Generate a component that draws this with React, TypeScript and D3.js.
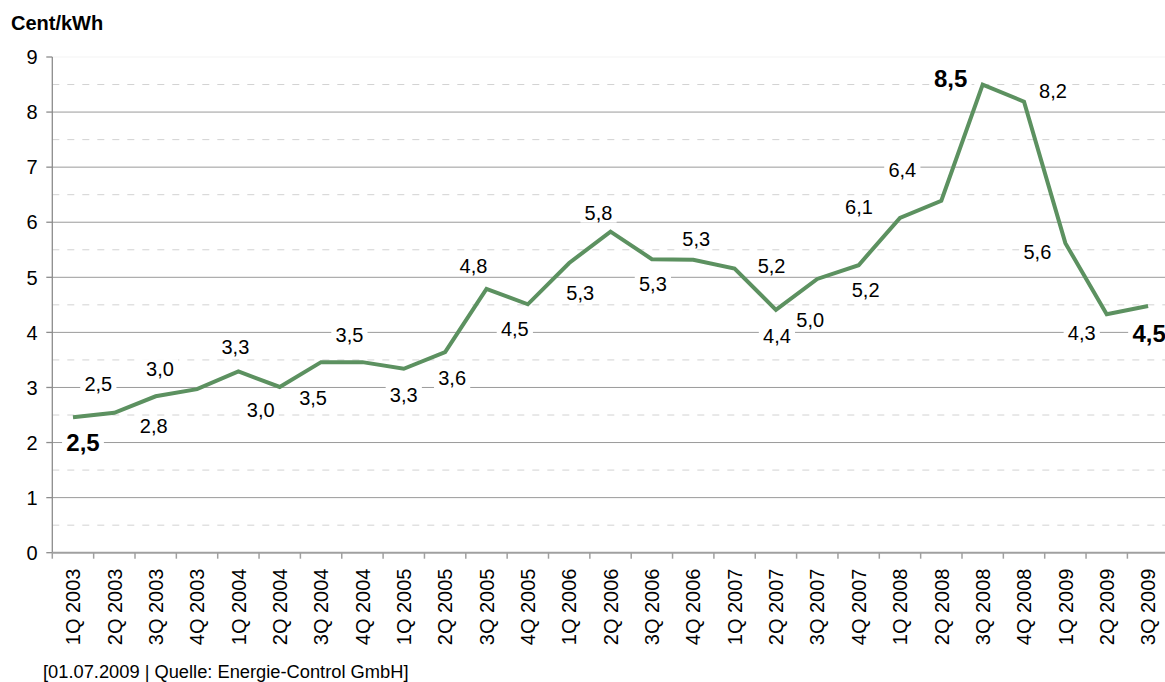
import React from "react";
import * as d3 from "d3";

const categories = [
  "1Q 2003", "2Q 2003", "3Q 2003", "4Q 2003",
  "1Q 2004", "2Q 2004", "3Q 2004", "4Q 2004",
  "1Q 2005", "2Q 2005", "3Q 2005", "4Q 2005",
  "1Q 2006", "2Q 2006", "3Q 2006", "4Q 2006",
  "1Q 2007", "2Q 2007", "3Q 2007", "4Q 2007",
  "1Q 2008", "2Q 2008", "3Q 2008", "4Q 2008",
  "1Q 2009", "2Q 2009", "3Q 2009",
];

const values = [
  2.46, 2.54, 2.84, 2.97,
  3.29, 3.01, 3.46, 3.46,
  3.34, 3.64, 4.79, 4.51,
  5.26, 5.83, 5.33, 5.32,
  5.16, 4.41, 4.97, 5.22,
  6.08, 6.39, 8.5, 8.19,
  5.62, 4.33, 4.48,
];

const yTicks = [0, 1, 2, 3, 4, 5, 6, 7, 8, 9];
const yHalfTicks = [0.5, 1.5, 2.5, 3.5, 4.5, 5.5, 6.5, 7.5, 8.5];

const yTitle = "Cent/kWh";
const sourceNote = "[01.07.2009 | Quelle: Energie-Control GmbH]";

// Indices whose data labels are emphasised (first, maximum, last)
const boldLabels = [0, 22, 26];

// Label placement relative to each point (layout, in px)
const labelOffsets: [number, number][] = [
  [10, 25], [-16, -29], [-2, 30], [-37, -20],
  [-3, -25], [-19, 23], [-8, 36], [-13, -27],
  [0, 26], [7, 26], [-13, -23], [-13, 25],
  [11, 30], [-12, -19], [1, 25], [3, -21],
  [37, -3], [1, 26], [-7, 41], [7, 25],
  [-41, -11], [-39, -31], [-32, -6], [29, -11],
  [-28, 9], [-25, 19], [1, 27],
];

const W = 1165;
const H = 682;
const FONT = "'Liberation Sans', Arial, Helvetica, sans-serif";

const fmt = (v: number) => v.toFixed(1).replace(".", ",");

export default function App() {
  const x0 = 52.3;
  const x1 = 52.3 + 41.35 * categories.length;
  const yBottom = 552.7;
  const yTop = 57;

  const x = d3.scaleBand<string>().domain(categories).range([x0, x1]).paddingInner(0).paddingOuter(0);
  const bw = x.bandwidth();
  const cx = (c: string) => (x(c) as number) + bw / 2;
  const y = d3.scaleLinear().domain([0, 9]).range([yBottom, yTop]);

  const line = d3
    .line<number>()
    .x((_, i) => cx(categories[i]))
    .y((d) => y(d));

  const pathD = line(values) || "";

  return (
    <svg
      width={W}
      height={H}
      style={{ position: "absolute", left: 0, top: 0, background: "#fff" }}
      fontFamily={FONT}
    >
      <rect x={0} y={0} width={W} height={H} fill="#fff" />
      {/* half gridlines */}
      {yHalfTicks.map((t) => (
        <line
          key={"h" + t}
          x1={x0}
          x2={W}
          y1={y(t)}
          y2={y(t)}
          stroke="#d2d2d2"
          strokeWidth={1}
          strokeDasharray="7,8"
        />
      ))}
      {/* major gridlines */}
      {yTicks
        .filter((t) => t > 0 && t < 9)
        .map((t) => (
          <line key={"g" + t} x1={x0} x2={W} y1={y(t)} y2={y(t)} stroke="#9a9a9a" strokeWidth={1} />
        ))}
      <line x1={x0} x2={W} y1={y(9)} y2={y(9)} stroke="#f3f3f3" strokeWidth={1} />

      {/* y axis */}
      <line x1={x0} x2={x0} y1={yTop} y2={yBottom} stroke="#8c8c8c" strokeWidth={1.3} />
      {yTicks.map((t) => (
        <g key={"yt" + t}>
          <line x1={x0 - 6} x2={x0} y1={y(t)} y2={y(t)} stroke="#8c8c8c" strokeWidth={1.3} />
          <text x={37.5} y={y(t)} dy="0.36em" textAnchor="end" fontSize={20} fill="#000">
            {t}
          </text>
        </g>
      ))}

      {/* x axis */}
      <line x1={x0} x2={W} y1={yBottom} y2={yBottom} stroke="#a0a0a0" strokeWidth={2} />
      {categories.map((c) => (
        <line
          key={"xt" + c}
          x1={x(c) as number}
          x2={x(c) as number}
          y1={yBottom}
          y2={yBottom + 6}
          stroke="#a0a0a0"
          strokeWidth={1.5}
        />
      ))}
      {categories.map((c) => (
        <text
          key={"xl" + c}
          transform={`translate(${cx(c)},${568.5}) rotate(-90)`}
          textAnchor="end"
          dy="0.36em"
          fontSize={20}
          fill="#000"
        >
          {c}
        </text>
      ))}

      {/* series line */}
      <path d={pathD} fill="none" stroke="#5c9160" strokeWidth={4} strokeLinejoin="miter" />

      {/* data labels */}
      {values.map((v, i) => {
        const bold = boldLabels.includes(i);
        const fs = bold ? 24 : 20;
        const [dx, dy] = labelOffsets[i];
        const lx = cx(categories[i]) + dx;
        const ly = y(v) + dy;
        const txt = fmt(v);
        const tw = txt.length * fs * 0.47 + 8;
        const th = fs * 1.0;
        return (
          <g key={"lab" + i}>
            <rect x={lx - tw / 2} y={ly - th / 2} width={tw} height={th} fill="#fff" />
            <text
              x={lx}
              y={ly}
              dy="0.36em"
              textAnchor="middle"
              fontSize={fs}
              fontWeight={bold ? "bold" : "normal"}
              fill="#000"
            >
              {txt}
            </text>
          </g>
        );
      })}

      {/* titles */}
      <text x={11} y={29.5} fontSize={20} fontWeight="bold" fill="#000">
        {yTitle}
      </text>
      <text x={43} y={678} fontSize={18.3} fill="#000">
        {sourceNote}
      </text>
    </svg>
  );
}
